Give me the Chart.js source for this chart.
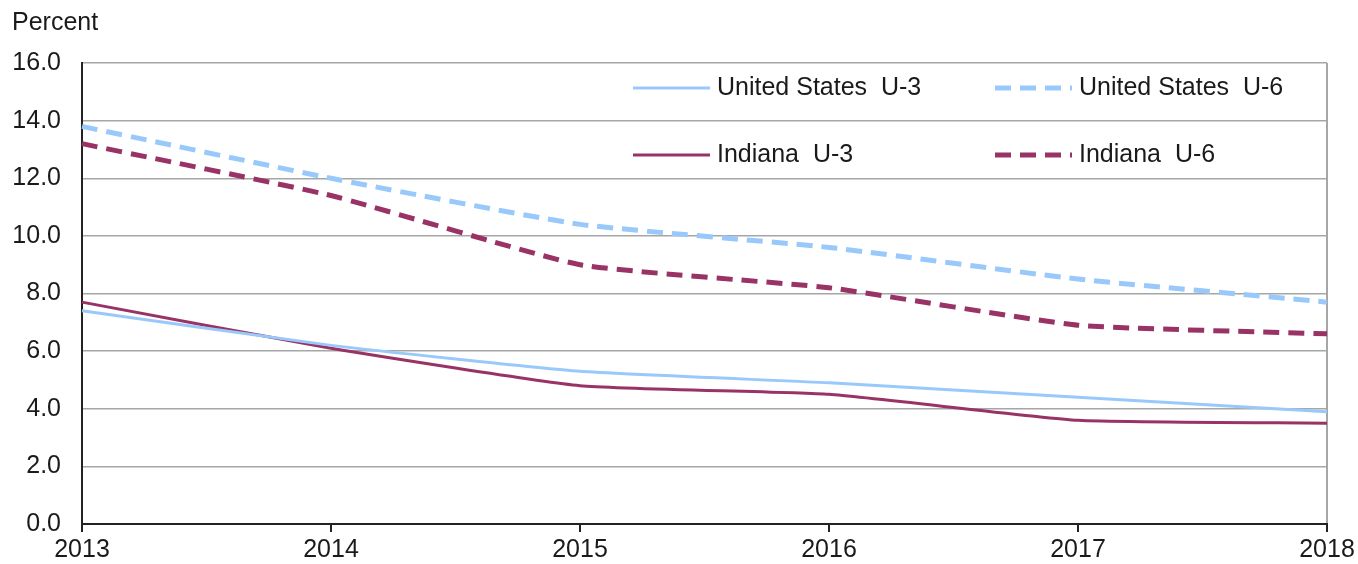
<!DOCTYPE html>
<html>
<head>
<meta charset="utf-8">
<script src="https://cdn.jsdelivr.net/npm/chart.js@4"></script>
<style>
  html, body { margin: 0; padding: 0; background: #fff; }
  #wrap { width: 1358px; height: 564px; position: relative; }
</style>
</head>
<body>
<div id="wrap"><canvas id="rateChart"></canvas></div>
<script>
const years = ['2013', '2014', '2015', '2016', '2017', '2018'];
const usU3 = [7.4, 6.2, 5.3, 4.9, 4.4, 3.9];
const usU6 = [13.8, 12.0, 10.4, 9.6, 8.5, 7.7];
const indianaU3 = [7.7, 6.1, 4.8, 4.5, 3.6, 3.5];
const indianaU6 = [13.2, 11.4, 9.0, 8.2, 6.9, 6.6];
const yTicks = [0, 2, 4, 6, 8, 10, 12, 14, 16];

const lightBlue = '#99c9fb';
const maroon = '#993366';
const font = 'Liberation Sans, Arial, sans-serif';

// legend drawn inside the plot area, plus the "Percent" label
const overlay = {
    id: 'overlay',
    afterDraw(chart) {
        const ctx = chart.ctx;
        ctx.save();
        ctx.fillStyle = '#1a1a1a';
        ctx.font = '25px ' + font;
        ctx.textBaseline = 'middle';
        ctx.textAlign = 'left';
        ctx.fillText('Percent', 12, 23);

        const spots = [[633, 88], [995, 88], [633, 155], [995, 155]];
        chart.data.datasets.forEach((ds, i) => {
            const [x, y] = spots[i];
            ctx.beginPath();
            ctx.strokeStyle = ds.borderColor;
            ctx.lineWidth = ds.borderWidth;
            ctx.setLineDash(ds.borderDash || []);
            ctx.moveTo(x, y);
            ctx.lineTo(x + 77, y);
            ctx.stroke();
            ctx.setLineDash([]);
            ctx.fillStyle = '#1a1a1a';
            ctx.fillText(ds.label, x + 84, y);
        });
        ctx.restore();
    }
};

new Chart(document.getElementById('rateChart'), {
    type: 'line',
    data: {
        labels: years,
        datasets: [
            { label: 'United States  U-3', data: usU3, borderColor: lightBlue, borderWidth: 3 },
            { label: 'United States  U-6', data: usU6, borderColor: lightBlue, borderWidth: 5, borderDash: [16, 9] },
            { label: 'Indiana  U-3', data: indianaU3, borderColor: maroon, borderWidth: 3 },
            { label: 'Indiana  U-6', data: indianaU6, borderColor: maroon, borderWidth: 5, borderDash: [16, 9] }
        ]
    },
    options: {
        responsive: true,
        maintainAspectRatio: false,
        animation: false,
        layout: { padding: { left: 0, right: 31, top: 63, bottom: 0 } },
        elements: {
            point: { radius: 0 },
            line: { tension: 0.15, fill: false, borderCapStyle: 'butt' }
        },
        plugins: {
            legend: { display: false },
            tooltip: { enabled: false }
        },
        scales: {
            x: {
                offset: false,
                afterFit: (s) => { s.height = 40; },
                border: { color: '#222', width: 2 },
                grid: {
                    drawOnChartArea: true,
                    color: (c) => c.index === years.length - 1 ? '#a6a6a6' : 'transparent',
                    lineWidth: 2,
                    tickColor: '#222',
                    tickLength: 8
                },
                ticks: {
                    color: '#1a1a1a',
                    font: { family: font, size: 25 },
                    padding: 3,
                    maxRotation: 0
                }
            },
            y: {
                min: 0,
                max: 16,
                afterFit: (s) => { s.width = 82; },
                afterBuildTicks: (s) => { s.ticks = yTicks.map(v => ({ value: v })); },
                border: { color: '#222', width: 2 },
                grid: {
                    color: '#a6a6a6',
                    lineWidth: 1.5,
                    drawTicks: false
                },
                ticks: {
                    color: '#1a1a1a',
                    font: { family: font, size: 25 },
                    padding: 21,
                    callback: (v) => Number(v).toFixed(1)
                }
            }
        }
    },
    plugins: [overlay]
});
</script>
</body>
</html>
